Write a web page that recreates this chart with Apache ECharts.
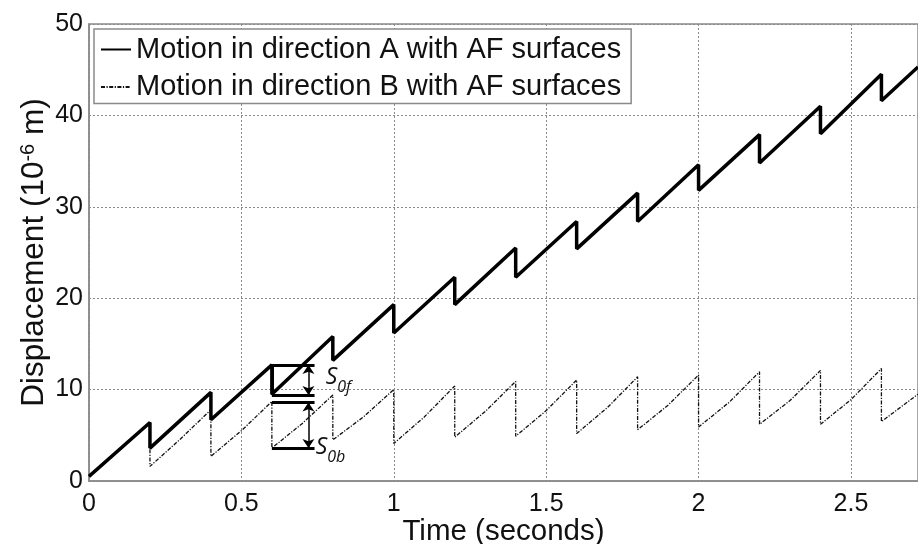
<!DOCTYPE html>
<html>
<head>
<meta charset="utf-8">
<script src="https://cdn.jsdelivr.net/npm/echarts@6/dist/echarts.min.js"></script>
<style>
html,body{margin:0;padding:0;background:#fff;}
#chart{width:918px;height:544px;}
</style>
</head>
<body>
<div id="chart"></div>
<script>
(function(){
	//// sawtooth readings (time in s, displacement in 1e-6 m)
	var seriesNames = ['Motion in direction A with AF surfaces', 'Motion in direction B with AF surfaces'];
	var dropTimes = [0.2, 0.4, 0.6, 0.8, 1.0, 1.2, 1.4, 1.6, 1.8, 2.0, 2.2, 2.4, 2.6];
	var endTime = 2.72;

	//direction A
	var startA = 0.5, endA = 45.3;
	var peakA   = [6.4, 9.7, 12.7, 15.8, 19.3, 22.3, 25.5, 28.4, 31.5, 34.6, 37.9, 41.0, 44.5];
	var troughA = [3.6, 6.7, 9.5, 13.2, 16.2, 19.3, 22.3, 25.4, 28.4, 31.8, 34.8, 38.0, 41.6];

	//direction B
	var startB = 0.5, endB = 9.5;
	var riseTimesB = [0.1, 0.3, 0.5, 0.7, 0.9, 1.1, 1.3, 1.5, 1.7, 1.9, 2.1, 2.3, 2.5];
	var riseMidB   = [3.4, 4.6, 5.5, 6.3, 7.0, 7.0, 7.6, 7.7, 8.0, 8.3, 8.6, 8.8, 8.9];
	var peakB      = [6.3, 7.8, 8.7, 9.4, 10.0, 10.4, 10.9, 11.05, 11.4, 11.6, 11.95, 12.1, 12.3];
	var troughB    = [1.6, 2.7, 3.6, 4.5, 4.1, 4.8, 4.9, 5.2, 5.6, 5.9, 6.2, 6.2, 6.5];

	//axes
	var xTicks = [0, 0.5, 1, 1.5, 2, 2.5];
	var yTicks = [0, 10, 20, 30, 40, 50];

	//S0f / S0b annotation
	var annotSpan = [0.6, 0.74];
	var arrowTime = 0.72;
	var s0fLevels = [12.7, 9.4];
	var s0bLevels = [8.6, 3.6];
	var s0fLabelAt = [0.775, 11.0];
	var s0bLabelAt = [0.742, 3.3];

	var font = 'Liberation Sans, Arial, sans-serif';
	var myChart = echarts.init(document.getElementById('chart'));

	function buildA(){
		var pts = [[0, startA]];
		for(var i = 0; i < dropTimes.length; i++){
			pts.push([dropTimes[i], peakA[i]]);
			pts.push([dropTimes[i], troughA[i]]);
		}
		pts.push([endTime, endA]);
		return pts;
	}
	function buildB(){
		var pts = [[0, startB]];
		for(var i = 0; i < dropTimes.length; i++){
			pts.push([riseTimesB[i], riseMidB[i]]);
			pts.push([dropTimes[i], peakB[i]]);
			pts.push([dropTimes[i], troughB[i]]);
		}
		pts.push([endTime, endB]);
		return pts;
	}
	function hBar(y){
		return [{coord: [annotSpan[0], y]}, {coord: [annotSpan[1], y]}];
	}
	function arrow(levels){
		return [
			{coord: [arrowTime, levels[0]], symbol: 'arrow', symbolSize: [9, 9]},
			{coord: [arrowTime, levels[1]], symbol: 'arrow', symbolSize: [9, 9], lineStyle: {width: 1.5}}
		];
	}

	var option = {
		animation: false,
		textStyle: {fontFamily: font},
		grid: {
			left: 89, right: 0, top: 24, bottom: 63,
			outerBoundsMode: 'none',
			containLabel: false,
			show: true, borderColor: '#8a8a8a', borderWidth: 1.5
		},
		legend: {
			orient: 'vertical',
			left: 94, top: 29,
			data: seriesNames,
			backgroundColor: '#fff',
			borderColor: '#8a8a8a', borderWidth: 1.5,
			padding: [6, 10, 2, 6],
			itemGap: 8.5,
			itemWidth: 30, itemHeight: 14,
			selectedMode: false,
			itemStyle: {opacity: 0},
			textStyle: {fontSize: 29, color: '#111', fontFamily: font}
		},
		xAxis: {
			type: 'value',
			min: 0, max: endTime, interval: 0.5,
			name: 'Time (seconds)',
			nameLocation: 'middle',
			nameMoveOverlap: false,
			nameGap: 36,
			nameTextStyle: {fontSize: 29.5, color: '#111', fontFamily: font},
			axisLine: {lineStyle: {color: '#8a8a8a', width: 1.5}},
			axisTick: {show: false},
			axisLabel: {
				fontSize: 25, color: '#111', margin: 11, showMaxLabel: false,
				formatter: function(v){ return xTicks.indexOf(v) >= 0 ? String(v) : ''; }
			},
			splitLine: {lineStyle: {color: '#8a8a8a', type: [2, 2], width: 1}}
		},
		yAxis: {
			type: 'value',
			min: yTicks[0], max: yTicks[yTicks.length - 1], interval: 10,
			name: 'Displacement (10{sup|-6} m)',
			nameLocation: 'middle',
			nameMoveOverlap: false,
			nameGap: 39,
			nameTextStyle: {
				fontSize: 31.5, color: '#111', fontFamily: font,
				rich: {sup: {fontSize: 20, color: '#111', fontFamily: font, verticalAlign: 'top'}}
			},
			axisLine: {show: true, lineStyle: {color: '#8a8a8a', width: 1.5}},
			axisTick: {show: false},
			axisLabel: {fontSize: 25, color: '#111', margin: 6},
			splitLine: {lineStyle: {color: '#8a8a8a', type: [2, 2], width: 1}}
		},
		series: [
			{
				name: seriesNames[1],
				type: 'line',
				symbol: 'none',
				z: 2,
				lineStyle: {color: '#111', width: 1.3, type: [4, 1.5, 1.2, 1.5]},
				itemStyle: {color: '#111'},
				data: buildB()
			},
			{
				name: seriesNames[0],
				type: 'line',
				symbol: 'none',
				z: 3,
				lineStyle: {color: '#000', width: 3.5},
				itemStyle: {color: '#000'},
				data: buildA(),
				markLine: {
					silent: true,
					symbol: ['none', 'none'],
					label: {show: false},
					lineStyle: {color: '#000', width: 3, type: 'solid'},
					data: [
						hBar(s0fLevels[0]),
						hBar(s0fLevels[1]),
						hBar(s0bLevels[0]),
						hBar(s0bLevels[1]),
						[{coord: [annotSpan[0], s0fLevels[0]]}, {coord: [annotSpan[0], s0fLevels[1]]}],
						arrow(s0fLevels),
						arrow(s0bLevels)
					]
				},
				markPoint: {
					silent: true,
					symbol: 'rect',
					symbolSize: 1,
					itemStyle: {color: 'rgba(0,0,0,0)'},
					label: {
						show: true,
						position: 'right',
						distance: 0,
						rich: {
							s: {fontSize: 23, fontStyle: 'italic', color: '#111', fontFamily: 'Open Sans', verticalAlign: 'top', lineHeight: 26},
							sub: {fontSize: 16, fontStyle: 'italic', color: '#111', fontFamily: 'Open Sans', verticalAlign: 'bottom', lineHeight: 30}
						}
					},
					data: [
						{coord: s0fLabelAt, label: {formatter: '{s|S}{sub|0f}'}},
						{coord: s0bLabelAt, label: {formatter: '{s|S}{sub|0b}'}}
					]
				}
			}
		]
	};
	myChart.setOption(option, true);
}());
</script>
</body>
</html>
